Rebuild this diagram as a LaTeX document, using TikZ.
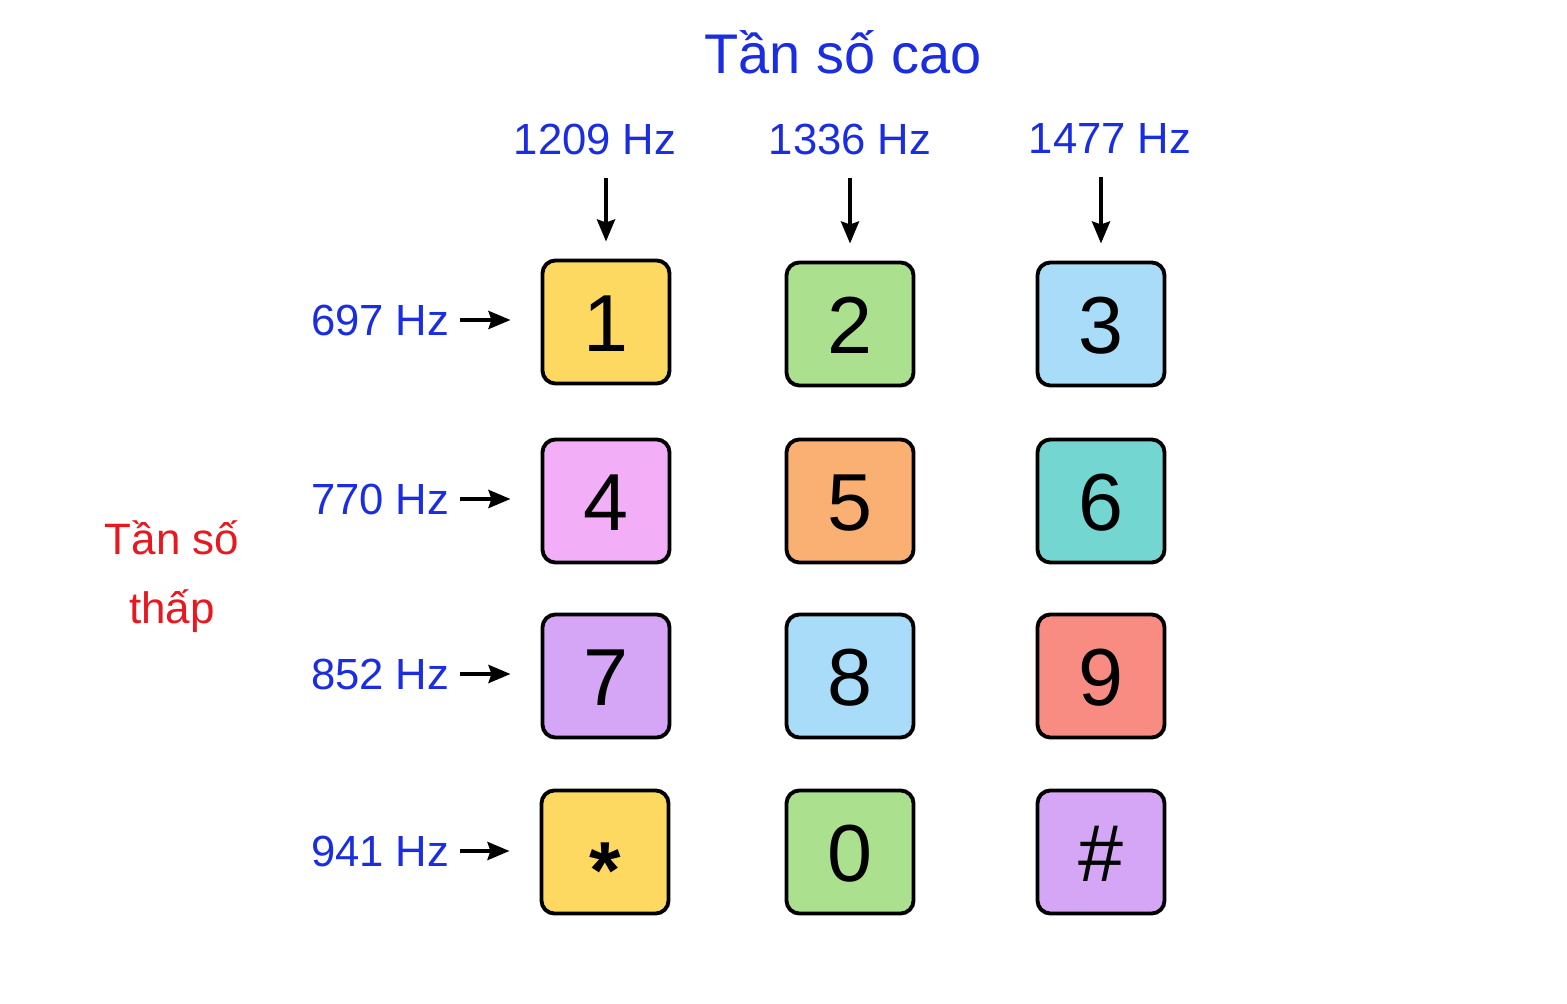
\documentclass[tikz,border=0pt]{standalone}
\usepackage{fontspec}
\setmainfont{Liberation Sans}
\usepackage{xcolor}
\usetikzlibrary{arrows.meta}
\definecolor{hzblue}{HTML}{1A2DE0}
\definecolor{lowred}{HTML}{E81820}
\definecolor{kyellow}{HTML}{FDD962}
\definecolor{kgreen}{HTML}{ABE08E}
\definecolor{kblue}{HTML}{A8DCF8}
\definecolor{kpink}{HTML}{F2AEF6}
\definecolor{korange}{HTML}{F9B072}
\definecolor{kteal}{HTML}{74D6D0}
\definecolor{kpurple}{HTML}{D4A6F5}
\definecolor{kred}{HTML}{F98C82}
\tikzset{%
    key/.style    = {draw=black, line width=1.1pt, rounded corners=0.13cm,
                     minimum width=1.27cm, minimum height=1.23cm,
                     text height=0.58cm, text depth=0pt,
                     font=\fontsize{23}{23}\selectfont},
    hzlabel/.style = {text=hzblue, font=\fontsize{12.4}{12.4}\selectfont, inner sep=0.08cm},
    tonearrow/.style = {-{Stealth[length=0.22cm,width=0.18cm,inset=0.03cm]}, line width=1.1pt}
}
\begin{document}
\begin{tikzpicture}[x=0.01cm,y=-0.01cm]
    \useasboundingbox[fill=white] (0,0) rectangle (1567,1004);
    % keypad
    \foreach \lbl/\col/\x/\y/\name in {
        1/kyellow/606/322/k1, 2/kgreen/850/324/k2, 3/kblue/1101/324/k3,
        4/kpink/606/501/k4, 5/korange/850/501/k5, 6/kteal/1101/501/k6,
        7/kpurple/606/676/k7, 8/kblue/850/676/k8, 9/kred/1101/676/k9,
        {\raisebox{-0.17cm}{\textbf{*}}}/kyellow/605/852/k10, 0/kgreen/850/852/k11, \#/kpurple/1101/852/k12}
        \node[key, fill=\col] (\name) at (\x,\y) {\lbl};
    % high tones
    \node[text=hzblue, font=\fontsize{15.9}{15.9}\selectfont] (high) at (843,52) {Tần số cao};
    \node[hzlabel] (h1) at (595,140) {1209 Hz};
    \node[hzlabel] (h2) at (850,140) {1336 Hz};
    \node[hzlabel] (h3) at (1110,139) {1477 Hz};
    \draw[tonearrow, shorten <=0.14cm, shorten >=0.17cm] (k1.north |- h1.south) -- (k1.north);
    \draw[tonearrow, shorten <=0.14cm, shorten >=0.17cm] (k2.north |- h2.south) -- (k2.north);
    \draw[tonearrow, shorten <=0.14cm, shorten >=0.17cm] (k3.north |- h3.south) -- (k3.north);
    % low tones
    \node[text=lowred, font=\fontsize{12.5}{19.6}\selectfont, align=center] (low) at (172,577) {Tần số\\thấp};
    \foreach \hz/\y/\n in {697/320/1, 770/499/4, 852/674/7, 941/851/10}{
        \node[hzlabel, anchor=east] (l\n) at (458,\y) {\hz{} Hz};
        \draw[tonearrow, shorten <=0.02cm, shorten >=0.3cm] (l\n.east) -- (l\n.east -| k\n.west);
    }
\end{tikzpicture}
\end{document}
